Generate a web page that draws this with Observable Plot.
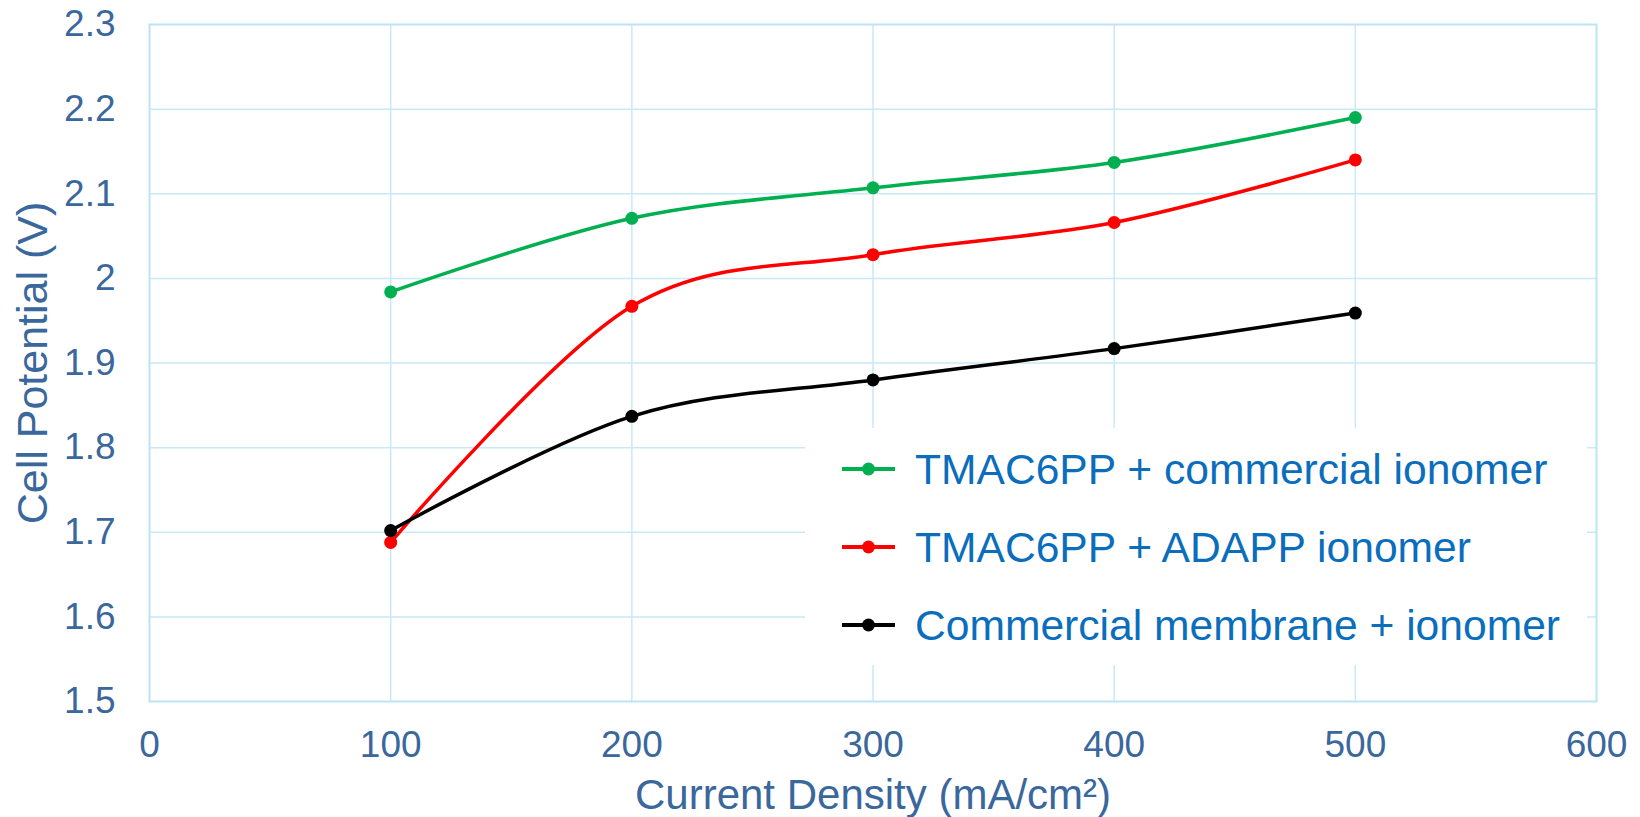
<!DOCTYPE html>
<html>
<head>
<meta charset="utf-8">
<script src="https://cdn.jsdelivr.net/npm/d3@7"></script>
<script src="https://cdn.jsdelivr.net/npm/@observablehq/plot@0.6"></script>
<style>
  html, body { margin: 0; padding: 0; background: #fff; }
  #wrap { position: relative; width: 1640px; height: 817px; font-family: "Liberation Sans", Arial, sans-serif; }
  #legend { position: absolute; background: #fff; }
  .item { position: absolute; display: flex; align-items: center; white-space: nowrap; }
  .item span { color: #0A6EBD; font-size: 42.6px; line-height: 1; }
</style>
</head>
<body>
<div id="wrap"></div>
<script>
// ---- data ----
const currentDensity = [100, 200, 300, 400, 500];
const seriesNames = ["TMAC6PP + commercial ionomer", "TMAC6PP + ADAPP ionomer", "Commercial membrane + ionomer"];
const seriesColors = ["#00B050", "#FF0000", "#000000"];
const greenValues = [1.984, 2.071, 2.107, 2.137, 2.190];
const redValues   = [1.688, 1.967, 2.028, 2.066, 2.140];
const blackValues = [1.702, 1.837, 1.880, 1.917, 1.959];
const xTicks = [0, 100, 200, 300, 400, 500, 600];
const yTicks = [1.5, 1.6, 1.7, 1.8, 1.9, 2.0, 2.1, 2.2, 2.3];
const xTitle = "Current Density (mA/cm\u00B2)";
const yTitle = "Cell Potential (V)";

const allSeries = [greenValues, redValues, blackValues];
const rows = [];
allSeries.forEach((vals, s) => vals.forEach((v, i) => rows.push({series: seriesNames[s], x: currentDensity[i], y: v})));

const gridColor = "#C8E9F7";
const tickColor = "#3A679C";
const W = 1640, H = 817;
const mL = 149, mR = 44, mT = 24, mB = 116;

const chart = Plot.plot({
  width: W, height: H,
  marginLeft: mL, marginRight: mR, marginTop: mT, marginBottom: mB,
  style: {fontFamily: "'Liberation Sans', Arial, sans-serif", background: "#fff", overflow: "visible"},
  x: {domain: [0, 600], ticks: xTicks},
  y: {domain: [1.5, 2.3], ticks: yTicks},
  color: {domain: seriesNames, range: seriesColors},
  marks: [
    Plot.gridX(xTicks.slice(1, -1), {stroke: gridColor, strokeOpacity: 1, strokeWidth: 1.5}),
    Plot.gridY(yTicks.slice(1, -1), {stroke: gridColor, strokeOpacity: 1, strokeWidth: 1.5}),
    Plot.frame({stroke: "#BCE4F4", strokeWidth: 2}),
    Plot.axisX(xTicks, {tickSize: 0, tickPadding: 29, fontSize: 37, fill: tickColor, label: null,
      tickFormat: d => String(d)}),
    Plot.axisY(yTicks, {tickSize: 0, tickPadding: 34, fontSize: 37, fill: tickColor, label: null,
      tickFormat: d => String(+d.toFixed(1))}),
    Plot.line(rows, {x: "x", y: "y", z: "series", stroke: "series", strokeWidth: 3.5, curve: "cardinal"}),
    Plot.dot(rows, {x: "x", y: "y", fill: "series", r: 6.5}),
    Plot.text([xTitle], {frameAnchor: "bottom", dy: 107, lineAnchor: "bottom", fontSize: 42, fill: tickColor}),
    Plot.text([yTitle], {frameAnchor: "left", dx: -116, rotate: -90, textAnchor: "middle", fontSize: 43, fill: tickColor})
  ]
});

const wrap = document.getElementById("wrap");
wrap.appendChild(chart);

// legend overlay (inside plot area, with white background)
const legend = document.createElement("div");
legend.id = "legend";
Object.assign(legend.style, {left: "805px", top: "428px", width: "782px", height: "237px"});
const itemCenters = [41, 119, 197];
seriesNames.forEach((name, i) => {
  const it = document.createElement("div");
  it.className = "item";
  it.style.left = "37px";
  it.style.top = (itemCenters[i] - 25) + "px";
  it.style.height = "50px";
  const sw = d3.create("svg").attr("width", 53).attr("height", 20).style("margin-right", "20px");
  sw.append("line").attr("x1", 0).attr("x2", 53).attr("y1", 10).attr("y2", 10)
    .attr("stroke", seriesColors[i]).attr("stroke-width", 3.8);
  sw.append("circle").attr("cx", 26.5).attr("cy", 10).attr("r", 6.5).attr("fill", seriesColors[i]);
  it.appendChild(sw.node());
  const sp = document.createElement("span");
  sp.textContent = name;
  it.appendChild(sp);
  legend.appendChild(it);
});
wrap.appendChild(legend);
</script>
</body>
</html>
